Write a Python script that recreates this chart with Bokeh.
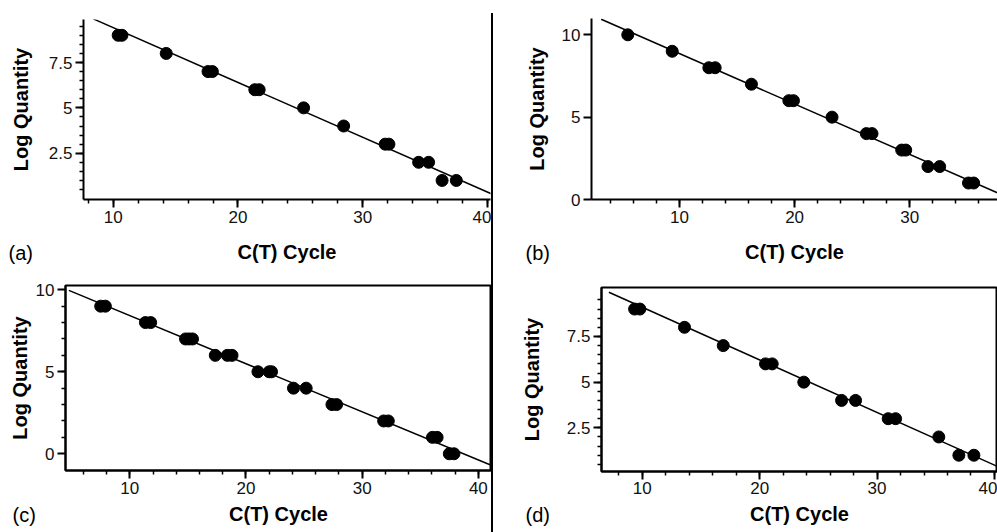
from bokeh.plotting import figure
from bokeh.layouts import row, column
from bokeh.models import Range1d, FixedTicker, Title, Spacer
from bokeh.embed import file_html
from bokeh.resources import INLINE

FONT = "Liberation Sans"

# ---------------- data ----------------
# panel (a)
a_ct = [10.4, 10.7, 14.25, 17.6, 17.95, 21.35, 21.7, 25.26, 28.47, 31.8, 32.1, 34.48, 35.28, 36.36, 37.5]
a_log = [9, 9, 8, 7, 7, 6, 6, 5, 4, 3, 3, 2, 2, 1, 1]
a_slope, a_intercept = -0.302, 12.44
a_fit_ct = [8.4, 40.3]

# panel (b)
b_ct = [5.51, 9.37, 12.55, 13.1, 16.25, 19.5, 19.9, 23.25, 26.23, 26.72, 29.3, 29.65, 31.58, 32.6, 35.1, 35.55]
b_log = [10, 9, 8, 8, 7, 6, 6, 5, 4, 4, 3, 3, 2, 2, 1, 1]
b_slope, b_intercept = -0.306, 11.92
b_fit_ct = [3.2, 38.0]

# panel (c)
c_ct = [7.5, 7.9, 11.35, 11.8, 14.8, 15.1, 15.4, 17.36, 18.4, 18.8, 21.03, 22.0, 22.2,
        24.09, 25.18, 27.4, 27.8, 31.85, 32.25, 36.05, 36.45, 37.5, 37.9]
c_log = [9, 9, 8, 8, 7, 7, 7, 6, 6, 6, 5, 5, 5, 4, 4, 3, 3, 2, 2, 1, 1, 0, 0]
c_slope, c_intercept = -0.2934, 11.36
c_fit_ct = [4.76, 41.0]

# panel (d)
d_ct = [9.35, 9.8, 13.6, 16.9, 20.5, 21.07, 23.76, 26.98, 28.17, 30.95, 31.58, 35.26, 36.97, 38.25]
d_log = [9, 9, 8, 7, 6, 6, 5, 4, 4, 3, 3, 2, 1, 1]
d_slope, d_intercept = -0.288, 11.98
d_fit_ct = [7.16, 40.3]

# tick values
x_major = [10, 20, 30, 40]
x_minor = list(range(4, 42, 2))
y_major_quarter = [2.5, 5, 7.5]
y_minor_half = [i * 0.5 for i in range(1, 20)]
y_major_five = [0, 5, 10]
y_minor_one = list(range(1, 10))
y_labels = {2.5: "2.5", 5: "5", 7.5: "7.5", 0: "0", 10: "10"}

X_TITLE = "C(T) Cycle"
Y_TITLE = "Log Quantity"


def panel(width, height, bl, br, bt, bb, xr, yr, ymaj, ymin, ct, log, slope, icpt, fit_ct,
          tag, tag_offset, ylab_standoff, xlab_standoff, xtick_standoff=3, framed=False):
    p = figure(width=width, height=height, x_range=Range1d(*xr), y_range=Range1d(*yr),
               toolbar_location=None, output_backend="svg",
               min_border_left=bl, min_border_right=br, min_border_top=bt, min_border_bottom=bb)
    p.xgrid.visible = False
    p.ygrid.visible = False
    if framed:
        p.outline_line_color = "black"
        p.outline_line_width = 2
    else:
        p.outline_line_color = None
    p.background_fill_color = "white"
    p.border_fill_color = "white"

    p.xaxis.ticker = FixedTicker(ticks=x_major, minor_ticks=x_minor)
    p.yaxis.ticker = FixedTicker(ticks=ymaj, minor_ticks=ymin)
    p.yaxis.major_label_overrides = {k: v for k, v in y_labels.items() if k in ymaj}
    p.xaxis.axis_label = X_TITLE
    p.yaxis.axis_label = Y_TITLE
    for ax in (p.xaxis[0], p.yaxis[0]):
        ax.axis_line_width = 2
        ax.axis_line_color = "black"
        ax.major_tick_line_width = 2
        ax.major_tick_line_color = "black"
        ax.minor_tick_line_width = 1.5
        ax.minor_tick_line_color = "black"
        ax.major_tick_out = 8
        ax.major_tick_in = 0
        ax.minor_tick_out = 4 if (ymin or ax is p.xaxis[0]) else 0
        ax.minor_tick_in = 0
        ax.major_label_text_font = FONT
        ax.major_label_text_font_size = "17px"
        ax.major_label_text_color = "#111111"
        ax.major_label_standoff = 3
        ax.axis_label_text_font = FONT
        ax.axis_label_text_font_style = "bold"
        ax.axis_label_text_font_size = "20px"
        ax.axis_label_text_color = "black"
    p.xaxis.major_label_standoff = xtick_standoff
    p.yaxis.axis_label_standoff = ylab_standoff
    p.xaxis.axis_label_standoff = xlab_standoff

    fit_y = [slope * x + icpt for x in fit_ct]
    p.line(fit_ct, fit_y, line_color="black", line_width=1.5)
    p.scatter(ct, log, size=12, fill_color="black", line_color="black")

    # panel tag on the same line as the x-axis title
    p.add_layout(Title(text=tag + "\n", align="left", offset=tag_offset, vertical_align="top",
                       standoff=-48, text_font=FONT, text_font_size="20px",
                       text_font_style="normal", text_color="black"), "below")
    return p


pa = panel(491, 270, 83, 1, 19, 71, (7.62, 40.24), (-0.05, 9.87),
           y_major_quarter, y_minor_half, a_ct, a_log, a_slope, a_intercept, a_fit_ct,
           "(a)", -75, 14, 15)
pb = panel(504, 270, 98, 0, 18, 71, (2.36, 37.62), (0.0, 10.99),
           y_major_five, [], b_ct, b_log, b_slope, b_intercept, b_fit_ct,
           "(b)", -66, 11, 15)
pc = panel(491, 262, 65, 0, 15, 62, (4.47, 41.13), (-1.02, 10.26),
           y_major_five, y_minor_one, c_ct, c_log, c_slope, c_intercept, c_fit_ct,
           "(c)", -53, 2, 6, framed=True)
pd = panel(504, 262, 108, 0, 17, 61, (6.53, 40.26), (0.11, 10.18),
           y_major_quarter, y_minor_half, d_ct, d_log, d_slope, d_intercept, d_fit_ct,
           "(d)", -76, 21, 6, xtick_standoff=2, framed=True)

# vertical divider between the two columns
divider = Spacer(width=2, height=519, margin=(13, 0, 0, 0),
                 styles={"background-color": "black"})

# each figure wrapped on its own so that the frames are not aligned with each other
left = column(column(pa), column(pc))
right = column(column(pb), column(pd))
layout = row(left, divider, right)

open("out.html", "w").write(file_html(layout, INLINE))
